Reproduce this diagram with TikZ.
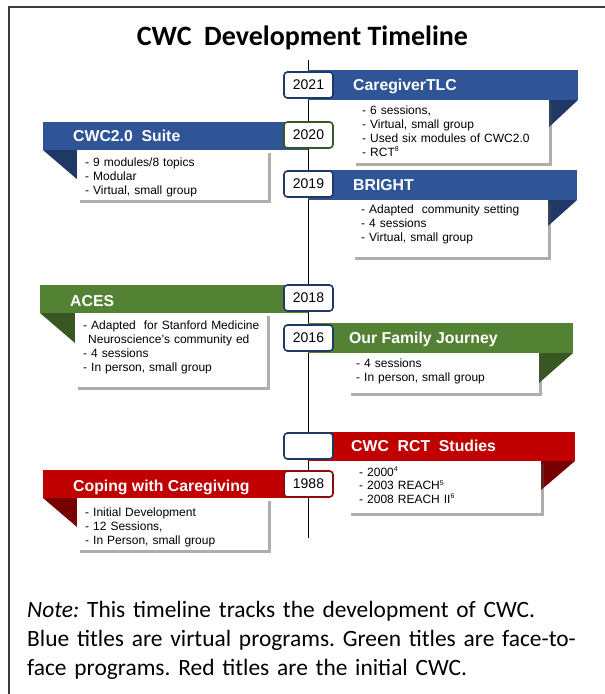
\documentclass[tikz,border=0pt]{standalone}
\usepackage{fontspec}
\setmainfont{Liberation Sans}
\newfontfamily\calib{Carlito}
\usetikzlibrary{shadows}
\frenchspacing
\definecolor{cblue}{RGB}{47,85,151}
\definecolor{cbluedk}{RGB}{31,56,100}
\definecolor{cgreen}{RGB}{84,130,53}
\definecolor{cgreendk}{RGB}{56,87,35}
\definecolor{cred}{RGB}{192,0,0}
\definecolor{creddk}{RGB}{120,0,0}
\definecolor{yrnavy}{RGB}{31,56,100}
\definecolor{yrgreen}{RGB}{56,87,35}
\definecolor{yrred}{RGB}{140,10,10}
\definecolor{framegray}{RGB}{60,60,60}
\begin{document}
\begin{tikzpicture}[x=1pt,y=-1pt,
 infobox/.style={fill=white, drop shadow={shadow xshift=2.5pt,shadow yshift=-2.5pt,opacity=0.45,fill=black!70}},
 bartitle/.style={anchor=base west, text=white, font=\fontsize{15.8}{18}\selectfont\bfseries, inner sep=0},
 infotext/.style={anchor=base west, inner sep=0, align=left, text width=#1, font=\fontsize{12}{14}\selectfont},
 yearbox/.style={draw=#1, line width=1.6pt, rounded corners=3.5pt, fill=white, minimum width=49pt, minimum height=26pt, inner sep=0, font=\fontsize{14}{16}\selectfont},
]
\useasboundingbox (0,0) rectangle (605,694);
\fill[white] (0,0) rectangle (605,694);
% frame
\draw[line width=1.4pt, framegray] (9,694) -- (9,7) -- (605,7);
% title
\node[font=\calib\bfseries\fontsize{28}{32}\selectfont, inner sep=0] (title) at (302.5,38) {CWC\ \ Development Timeline};
% timeline
\coordinate (ttop) at (308.5,60);
\coordinate (tbot) at (308.5,538);
\draw[line width=1.3pt] (ttop) -- (tbot);

% ---------- CaregiverTLC (2021)
\fill[cblue] (308,70) rectangle (578,100);
\fill[cbluedk] (578,100) -- (548,100) -- (548,128) -- cycle;
\path[infobox] (353,100) rectangle (549,163);
\node[bartitle] (tlc) at (353,90.5) {CaregiverTLC};
\node[infotext=190pt] (tlcinfo) at (362,114) {- 6 sessions,\\- Virtual, small group\\- Used six modules of CWC2.0\\- RCT\textsuperscript{\scriptsize 8}};

% ---------- CWC2.0 Suite (2020)
\fill[cblue] (43,122) rectangle (308,150);
\fill[cbluedk] (43,150) -- (78,150) -- (78,180) -- cycle;
\path[infobox] (77,150) rectangle (268,200);
\node[bartitle] (suite) at (73,141.5) {CWC2.0\ \ Suite};
\node[infotext=180pt] (suiteinfo) at (85,166) {- 9 modules/8 topics\\- Modular\\- Virtual, small group};

% ---------- BRIGHT (2019)
\fill[cblue] (308,170) rectangle (577,200);
\fill[cbluedk] (577,200) -- (548,200) -- (548,226) -- cycle;
\path[infobox] (352,200) rectangle (548,257);
\node[bartitle] (bright) at (353,190.5) {BRIGHT};
\node[infotext=185pt] (brightinfo) at (361,213) {- Adapted\ \ community setting\\- 4 sessions\\- Virtual, small group};

% ---------- ACES (2018)
\fill[cgreen] (40,285) rectangle (308,313);
\fill[cgreendk] (40,313) -- (75,313) -- (75,343) -- cycle;
\path[infobox] (75,313) rectangle (267,387);
\node[bartitle] (aces) at (70,306.5) {ACES};
\node[infotext=185pt] (acesinfo) at (83,329) {- Adapted\ \ for Stanford Medicine\\\hspace*{5pt}Neuroscience’s community ed\\- 4 sessions\\- In person, small group};

% ---------- Our Family Journey (2016)
\fill[cgreen] (308,323) rectangle (573,353);
\fill[cgreendk] (573,353) -- (539,353) -- (539,383) -- cycle;
\path[infobox] (348,353) rectangle (539,393);
\node[bartitle] (ofj) at (349,343.5) {Our Family Journey};
\node[infotext=180pt] (ofjinfo) at (356,367) {- 4 sessions\\- In person, small group};

% ---------- CWC RCT Studies
\fill[cred] (308,432) rectangle (575,461);
\fill[creddk] (575,461) -- (541,461) -- (541,490) -- cycle;
\path[infobox] (348,461) rectangle (541,513);
\node[bartitle] (rct) at (351,451.5) {CWC\ \ RCT\ \ Studies};
\node[infotext=180pt, font=\fontsize{12}{13.5}\selectfont] (rctinfo) at (359,476) {- 2000\textsuperscript{\scriptsize 4}\\- 2003 REACH\textsuperscript{\scriptsize 5}\\- 2008 REACH II\textsuperscript{\scriptsize 6}};

% ---------- Coping with Caregiving (1988)
\fill[cred] (43,470) rectangle (308,498);
\fill[creddk] (43,498) -- (77,498) -- (77,527) -- cycle;
\path[infobox] (77,498) rectangle (268,550);
\node[bartitle] (cwc) at (73,491.5) {Coping with Caregiving};
\node[infotext=180pt] (cwcinfo) at (85,516) {- Initial Development\\- 12 Sessions,\\- In Person, small group};

% ---------- year boxes
\node[yearbox=yrnavy] (y2021) at (308.5,85) {2021};
\node[yearbox=yrgreen] (y2020) at (308.5,135) {2020};
\node[yearbox=yrnavy] (y2019) at (308.5,184) {2019};
\node[yearbox=yrnavy] (y2018) at (308.5,298) {2018};
\node[yearbox=yrnavy] (y2016) at (308.5,338) {2016};
\node[yearbox=yrnavy] (yblank) at (308.5,446) {};
\node[yearbox=yrred] (y1988) at (308.5,484) {1988};

% note
\node[anchor=base west, align=left, inner sep=0, text width=575pt, font=\calib\fontsize{23.4}{29}\selectfont] (note) at (27,617) {\textit{Note:} This timeline tracks the development of CWC.\\Blue titles are virtual programs. Green titles are face-to-\\face programs. Red titles are the initial CWC.};
\end{tikzpicture}
\end{document}
